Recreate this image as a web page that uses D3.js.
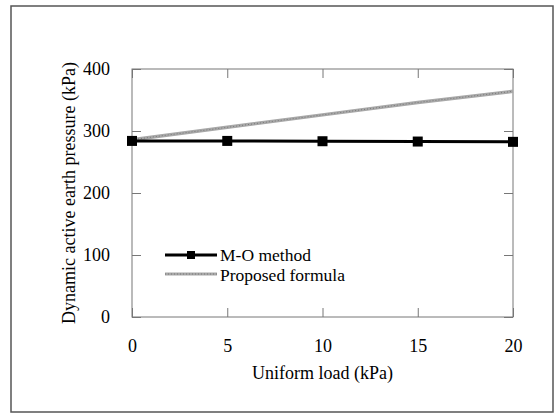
<!DOCTYPE html>
<html>
<head>
<meta charset="utf-8">
<script src="https://cdn.jsdelivr.net/npm/d3@7"></script>
<style>
  body { margin: 0; background: #fff; }
  svg text { font-family: "Liberation Serif", "Times New Roman", serif; fill: #000; font-size: 18px; }
</style>
</head>
<body>
<div id="chart"></div>
<script>
// Data
const loads = [0, 5, 10, 15, 20];
const moMethod = [284, 284, 283.5, 283, 282.5];
const proposed = [286, 306, 326, 346, 364];
const xTicks = [0, 5, 10, 15, 20];
const yTicks = [0, 100, 200, 300, 400];

const W = 559, H = 413;
const margin = { top: 69, right: 46, bottom: 96, left: 132 };
const width = W - margin.left - margin.right;
const height = H - margin.top - margin.bottom;

const svg = d3.select("#chart").append("svg")
    .attr("width", W)
    .attr("height", H);

// outer frame
svg.append("rect")
    .attr("x", 11).attr("y", 6)
    .attr("width", 542).attr("height", 406)
    .attr("fill", "none")
    .attr("stroke", "#555")
    .attr("stroke-width", 1.5);

const g = svg.append("g").attr("transform", `translate(${margin.left},${margin.top})`);

const x = d3.scaleLinear().domain([0, 20]).range([0, width]);
const y = d3.scaleLinear().domain([0, 400]).range([height, 0]);

// plot box
g.append("rect")
    .attr("width", width).attr("height", height)
    .attr("fill", "none")
    .attr("stroke", "#777")
    .attr("stroke-width", 1);

// axes with inward ticks
const axisStyle = sel => {
    sel.attr("font-family", null).attr("font-size", null);
    sel.select(".domain").remove();
    sel.selectAll("line").attr("stroke", "#777");
    sel.selectAll("text").attr("fill", "#000");
};

g.append("g")
    .attr("transform", `translate(0,${height})`)
    .call(d3.axisBottom(x).tickValues(xTicks).tickSizeInner(-9).tickSizeOuter(0).tickPadding(22))
    .call(axisStyle);

g.append("g")
    .call(d3.axisLeft(y).tickValues(yTicks).tickSizeInner(-9).tickSizeOuter(0).tickPadding(22))
    .call(axisStyle);

g.append("g")
    .call(d3.axisTop(x).tickValues(xTicks).tickSizeInner(-9).tickSizeOuter(0).tickFormat(""))
    .call(axisStyle);

g.append("g")
    .attr("transform", `translate(${width},0)`)
    .call(d3.axisRight(y).tickValues(yTicks).tickSizeInner(-9).tickSizeOuter(0).tickFormat(""))
    .call(axisStyle);

// series
const line = d3.line()
    .x((d, i) => x(loads[i]))
    .y(d => y(d));

g.append("path")
    .datum(proposed)
    .attr("fill", "none")
    .attr("stroke", "#a8a8a8")
    .attr("stroke-width", 3.5)
    .attr("d", line);

g.append("path")
    .datum(proposed)
    .attr("fill", "none")
    .attr("stroke", "#777")
    .attr("stroke-width", 1)
    .attr("stroke-dasharray", "1 2")
    .attr("d", line);

g.append("path")
    .datum(moMethod)
    .attr("fill", "none")
    .attr("stroke", "#000")
    .attr("stroke-width", 3)
    .attr("d", line);

g.selectAll(".mark")
    .data(moMethod)
    .enter().append("rect")
    .attr("class", "mark")
    .attr("x", (d, i) => x(loads[i]) - 5)
    .attr("y", d => y(d) - 5)
    .attr("width", 10)
    .attr("height", 10)
    .attr("fill", "#000");

// legend
const legend = svg.append("g").attr("transform", "translate(165,255)");
legend.append("line")
    .attr("x1", 0).attr("x2", 52).attr("y1", 0).attr("y2", 0)
    .attr("stroke", "#000").attr("stroke-width", 3);
legend.append("rect")
    .attr("x", 22).attr("y", -4).attr("width", 8).attr("height", 8)
    .attr("fill", "#000");
legend.append("text")
    .attr("x", 55).attr("y", 6)
    .style("font-size", "17.5px")
    .text("M-O method");
legend.append("line")
    .attr("x1", 0).attr("x2", 52).attr("y1", 19).attr("y2", 19)
    .attr("stroke", "#a8a8a8").attr("stroke-width", 3);
legend.append("line")
    .attr("x1", 0).attr("x2", 52).attr("y1", 19).attr("y2", 19)
    .attr("stroke", "#777").attr("stroke-width", 1).attr("stroke-dasharray", "1 2");
legend.append("text")
    .attr("x", 55).attr("y", 26)
    .style("font-size", "17.5px")
    .text("Proposed formula");

// axis titles
svg.append("text")
    .attr("x", margin.left + width / 2)
    .attr("y", 379)
    .attr("text-anchor", "middle")
    .text("Uniform load (kPa)");

svg.append("text")
    .attr("transform", `translate(75,${margin.top + height / 2}) rotate(-90)`)
    .attr("text-anchor", "middle")
    .text("Dynamic active earth pressure (kPa)");
</script>
</body>
</html>
